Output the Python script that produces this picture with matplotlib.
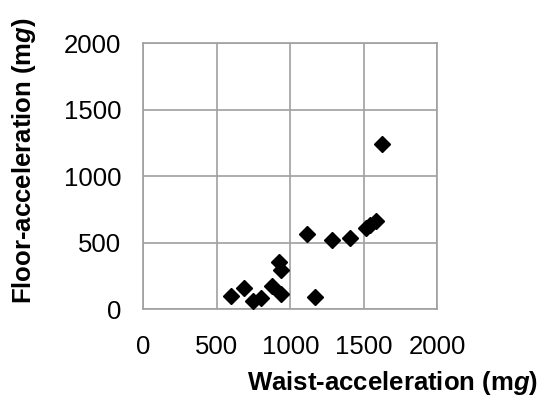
import matplotlib
matplotlib.use('Agg')
import matplotlib.pyplot as plt

# waist vs floor acceleration (mg)
waist = [595, 687, 748, 799, 873, 937, 925, 937, 1168, 1111, 1286, 1407, 1515, 1545, 1580, 1626]
floor = [98, 156, 62, 81, 173, 113, 352, 294, 88, 565, 519, 532, 610, 635, 665, 1242]
ticks = [0, 500, 1000, 1500, 2000]

plt.rcParams['font.family'] = 'Liberation Sans'
plt.rcParams['mathtext.fontset'] = 'custom'
plt.rcParams['mathtext.it'] = 'Liberation Sans:bold:italic'

fig = plt.figure(figsize=(5.42, 4.01), dpi=100)
ax = fig.add_axes([0.2644, 0.2294, 0.5425, 0.6626])

ax.plot(waist, floor, 'D', color='black', markersize=8, linestyle='none', zorder=3)

ax.set_xlim(0, 2000)
ax.set_ylim(0, 2000)
ax.set_xticks(ticks)
ax.set_yticks(ticks)
ax.tick_params(length=0, labelsize=18.5)
ax.tick_params(axis='x', pad=19)
ax.tick_params(axis='y', pad=16)
ax.grid(True, color='#a0a0a0', linewidth=1.2)
for s in ax.spines.values():
    s.set_color('#a0a0a0')
    s.set_linewidth(1.2)

fig.text(393 / 542, 1 - 383 / 401, 'Waist-acceleration (m$\\mathit{g}$)',
         ha='center', va='center', fontsize=18.5, fontweight='bold')
fig.text(24 / 542, 1 - 161 / 401, 'Floor-acceleration (m$\\mathit{g}$)',
         ha='center', va='center', fontsize=18.5, fontweight='bold', rotation=90)

fig.savefig('out.png', dpi=100)
